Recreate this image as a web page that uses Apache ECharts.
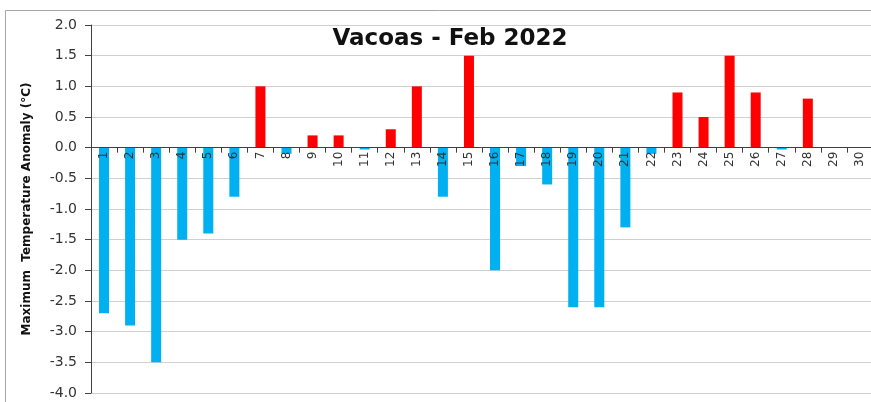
<!DOCTYPE html>
<html>
<head>
<meta charset="utf-8">
<script src="https://cdn.jsdelivr.net/npm/echarts@6/dist/echarts.min.js"></script>
<style>
html,body{margin:0;padding:0;background:#fff;}
#chart{width:871px;height:402px;}
</style>
</head>
<body>
<div id="chart"></div>
<script>
var titleText = 'Vacoas - Feb 2022';
var yAxisName = 'Maximum  Temperature Anomaly (°C)';
var days = ['1','2','3','4','5','6','7','8','9','10','11','12','13','14','15','16','17','18','19','20','21','22','23','24','25','26','27','28','29','30'];
var anomalies = [-2.7,-2.9,-3.5,-1.5,-1.4,-0.8,1.0,-0.1,0.2,0.2,-0.03,0.3,1.0,-0.8,1.5,-2.0,-0.3,-0.6,-2.6,-2.6,-1.3,-0.1,0.9,0.5,1.5,0.9,-0.03,0.8,0,0];
var yTicks = {min:-4, max:2, interval:0.5};

var gridTop = 25, gridHeight = 368;
var zeroOffset = -gridHeight * (0 - yTicks.min) / (yTicks.max - yTicks.min);

var chart = echarts.init(document.getElementById('chart'));
chart.setOption({
  animation:false,
  backgroundColor:'#fff',
  graphic:[{
    type:'rect', silent:true, z:-1,
    shape:{x:5.5, y:10.5, width:870, height:400},
    style:{fill:'none', stroke:'#a6a6a6', lineWidth:1}
  }],
  title:{
    text:titleText, left:445, top:23, textAlign:'center',
    textStyle:{fontFamily:'DejaVu Sans', fontWeight:'bold', fontSize:23, color:'#111'}
  },
  grid:{left:91, top:gridTop, width:782, height:gridHeight, containLabel:false, outerBoundsMode:'none'},
  xAxis:{
    type:'category', data:days, position:'bottom', offset:zeroOffset, z:5,
    axisLine:{onZero:false, lineStyle:{color:'#404040', width:1}},
    axisTick:{show:true, alignWithLabel:false, length:5, lineStyle:{color:'#404040'}},
    axisLabel:{rotate:90, margin:4, fontFamily:'DejaVu Sans', fontSize:12, color:'#333', interval:0},
    splitLine:{show:false}
  },
  yAxis:{
    type:'value', min:yTicks.min, max:yTicks.max, interval:yTicks.interval,
    name:yAxisName, nameLocation:'middle', nameGap:58, nameRotate:90,
    nameTextStyle:{fontFamily:'DejaVu Sans', fontWeight:'bold', fontSize:12, color:'#111'},
    axisLine:{show:true, lineStyle:{color:'#404040'}},
    axisTick:{show:true, length:6, lineStyle:{color:'#404040'}},
    axisLabel:{margin:14, fontFamily:'DejaVu Sans', fontSize:14, color:'#333',
      formatter:function(v){return v.toFixed(1);}},
    splitLine:{show:true, lineStyle:{color:'#d0d0d0', width:1}}
  },
  series:[{
    type:'bar', data:anomalies, barWidth:10, z:2,
    itemStyle:{color:function(p){return p.value>=0?'#ff0000':'#00b0f0';}}
  }]
});
</script>
</body>
</html>
